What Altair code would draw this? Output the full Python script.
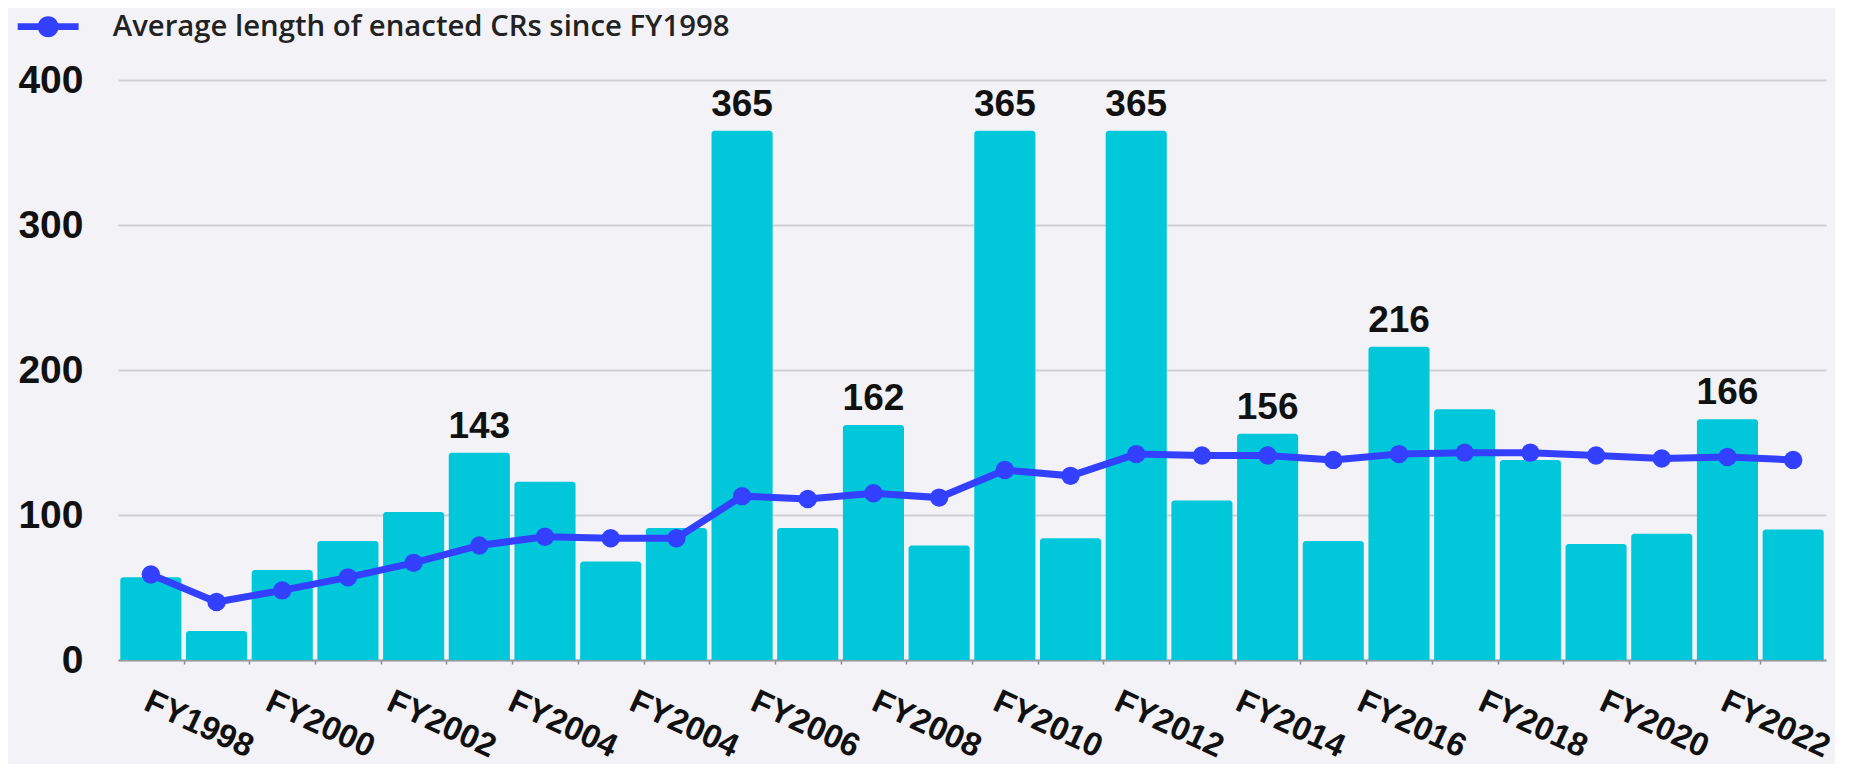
import altair as alt
import pandas as pd

# ---- data ----
years = ["FY1998", "FY1999", "FY2000", "FY2001", "FY2002", "FY2003", "FY2004",
         "FY2005", "FY2006", "FY2007", "FY2008", "FY2009", "FY2010", "FY2011",
         "FY2012", "FY2013", "FY2014", "FY2015", "FY2016", "FY2017", "FY2018",
         "FY2019", "FY2020", "FY2021", "FY2022", "FY2023"]
cr_days = [57, 20, 62, 82, 102, 143, 123, 68, 91, 365, 91, 162, 79, 365,
           84, 365, 110, 156, 82, 216, 173, 138, 80, 87, 166, 90]
avg_days = [59, 40, 48, 57, 67, 79, 85, 84, 84, 113, 111, 115, 112, 131,
            127, 142, 141, 141, 138, 142, 143, 143, 141, 139, 140, 138]
labeled_years = ["FY2003", "FY2007", "FY2009", "FY2011", "FY2013",
                 "FY2015", "FY2017", "FY2022"]
axis_labels = ["FY1998", "FY2000", "FY2002", "FY2004", "FY2004", "FY2006",
               "FY2008", "FY2010", "FY2012", "FY2014", "FY2016", "FY2018",
               "FY2020", "FY2022"]
y_ticks = [0, 100, 200, 300, 400]
series_name = "Average length of enacted CRs since FY1998"

BAR = "#00C8DA"
LINE = "#3440FF"
BG = "#F2F2F7"
FONT = "Liberation Sans"

df = pd.DataFrame({
    "year": years,
    "idx": list(range(len(years))),
    "days": cr_days,
    "avg": avg_days,
    "series": series_name,
})
df["label"] = [str(v) if y in labeled_years else "" for y, v in zip(years, cr_days)]

n = len(years)
xscale = alt.Scale(domain=[-0.5, n - 0.5], nice=False, zero=False)
yscale = alt.Scale(domain=[0, 400], nice=False)

yaxis = alt.Axis(values=y_ticks, title=None, domain=False, ticks=False,
                 labelFont=FONT, labelFontSize=39, labelFontWeight="bold",
                 labelColor="#111111", labelPadding=35,
                 gridColor="#CFCFD6", gridWidth=2)

boundary_axis = alt.Axis(values=[k + 0.5 for k in range(n - 1)], labels=False,
                         ticks=True, tickSize=4, tickColor="#8A8A90", tickWidth=1.5,
                         domain=True, domainColor="#9A9AA2", domainWidth=2,
                         grid=False, title=None, orient="bottom")

m = len(axis_labels)
label_pos = [i * (n - 2) / (m - 1) for i in range(m)]
js_labels = "[" + ",".join("'" + s + "'" for s in axis_labels) + "]"
label_axis = alt.Axis(values=label_pos,
                      labelExpr=js_labels + "[round(datum.value*%d/%d)]" % (m - 1, n - 2),
                      ticks=False, tickSize=0, domain=False, grid=False, title=None,
                      orient="bottom", labelAngle=25, labelAlign="left",
                      labelBaseline="top", labelFont=FONT, labelFontSize=33,
                      labelFontWeight="bold", labelColor="#111111", labelPadding=25,
                      labelOverlap=False, labelFlush=False, labelOffset=2)

base = alt.Chart(df)

bars = base.transform_calculate(
    x0="datum.idx - 0.465", x1="datum.idx + 0.465"
).mark_bar(color=BAR, cornerRadiusTopLeft=3, cornerRadiusTopRight=3).encode(
    x=alt.X("x0:Q", scale=xscale, axis=boundary_axis),
    x2="x1:Q",
    y=alt.Y("days:Q", scale=yscale, axis=yaxis),
    y2=alt.datum(0),
)

texts = base.mark_text(baseline="bottom", dy=-7, font=FONT, fontSize=37,
                       fontWeight="bold", color="#111111").encode(
    x=alt.X("idx:Q", scale=xscale, axis=None),
    y=alt.Y("days:Q", scale=yscale, axis=yaxis),
    text="label:N",
)

line = base.mark_line(color=LINE, strokeWidth=7).encode(
    x=alt.X("idx:Q", scale=xscale, axis=label_axis),
    y=alt.Y("avg:Q", scale=yscale, axis=yaxis),
)

legend_symbol = ("M-2.9,-0.33L2.9,-0.33L2.9,0.33L-2.9,0.33Z "
                 "M1,0A1,1,0,1,1,-1,0A1,1,0,1,1,1,0Z")

points = base.mark_circle(size=340, opacity=1).encode(
    x=alt.X("idx:Q", scale=xscale, axis=None),
    y=alt.Y("avg:Q", scale=yscale, axis=yaxis),
    color=alt.Color("series:N", scale=alt.Scale(range=[LINE]),
                    legend=alt.Legend(title=None, orient="none", legendX=-84.5,
                                      legendY=-68, padding=0,
                                      symbolType=legend_symbol, symbolSize=441,
                                      symbolStrokeWidth=0, labelOffset=50,
                                      labelFont="Open Sans", labelFontSize=29.3,
                                      labelFontWeight=600, labelColor="#222222",
                                      labelLimit=1200)),
)

chart = alt.layer(bars, texts, line, points).resolve_axis(x="independent").properties(
    width=1708, height=580, background=BG,
    padding={"left": 9, "top": 4, "right": 0, "bottom": 0},
).configure_view(stroke=None)

chart.save("out.html", embed_options={"renderer": "svg", "actions": False})
